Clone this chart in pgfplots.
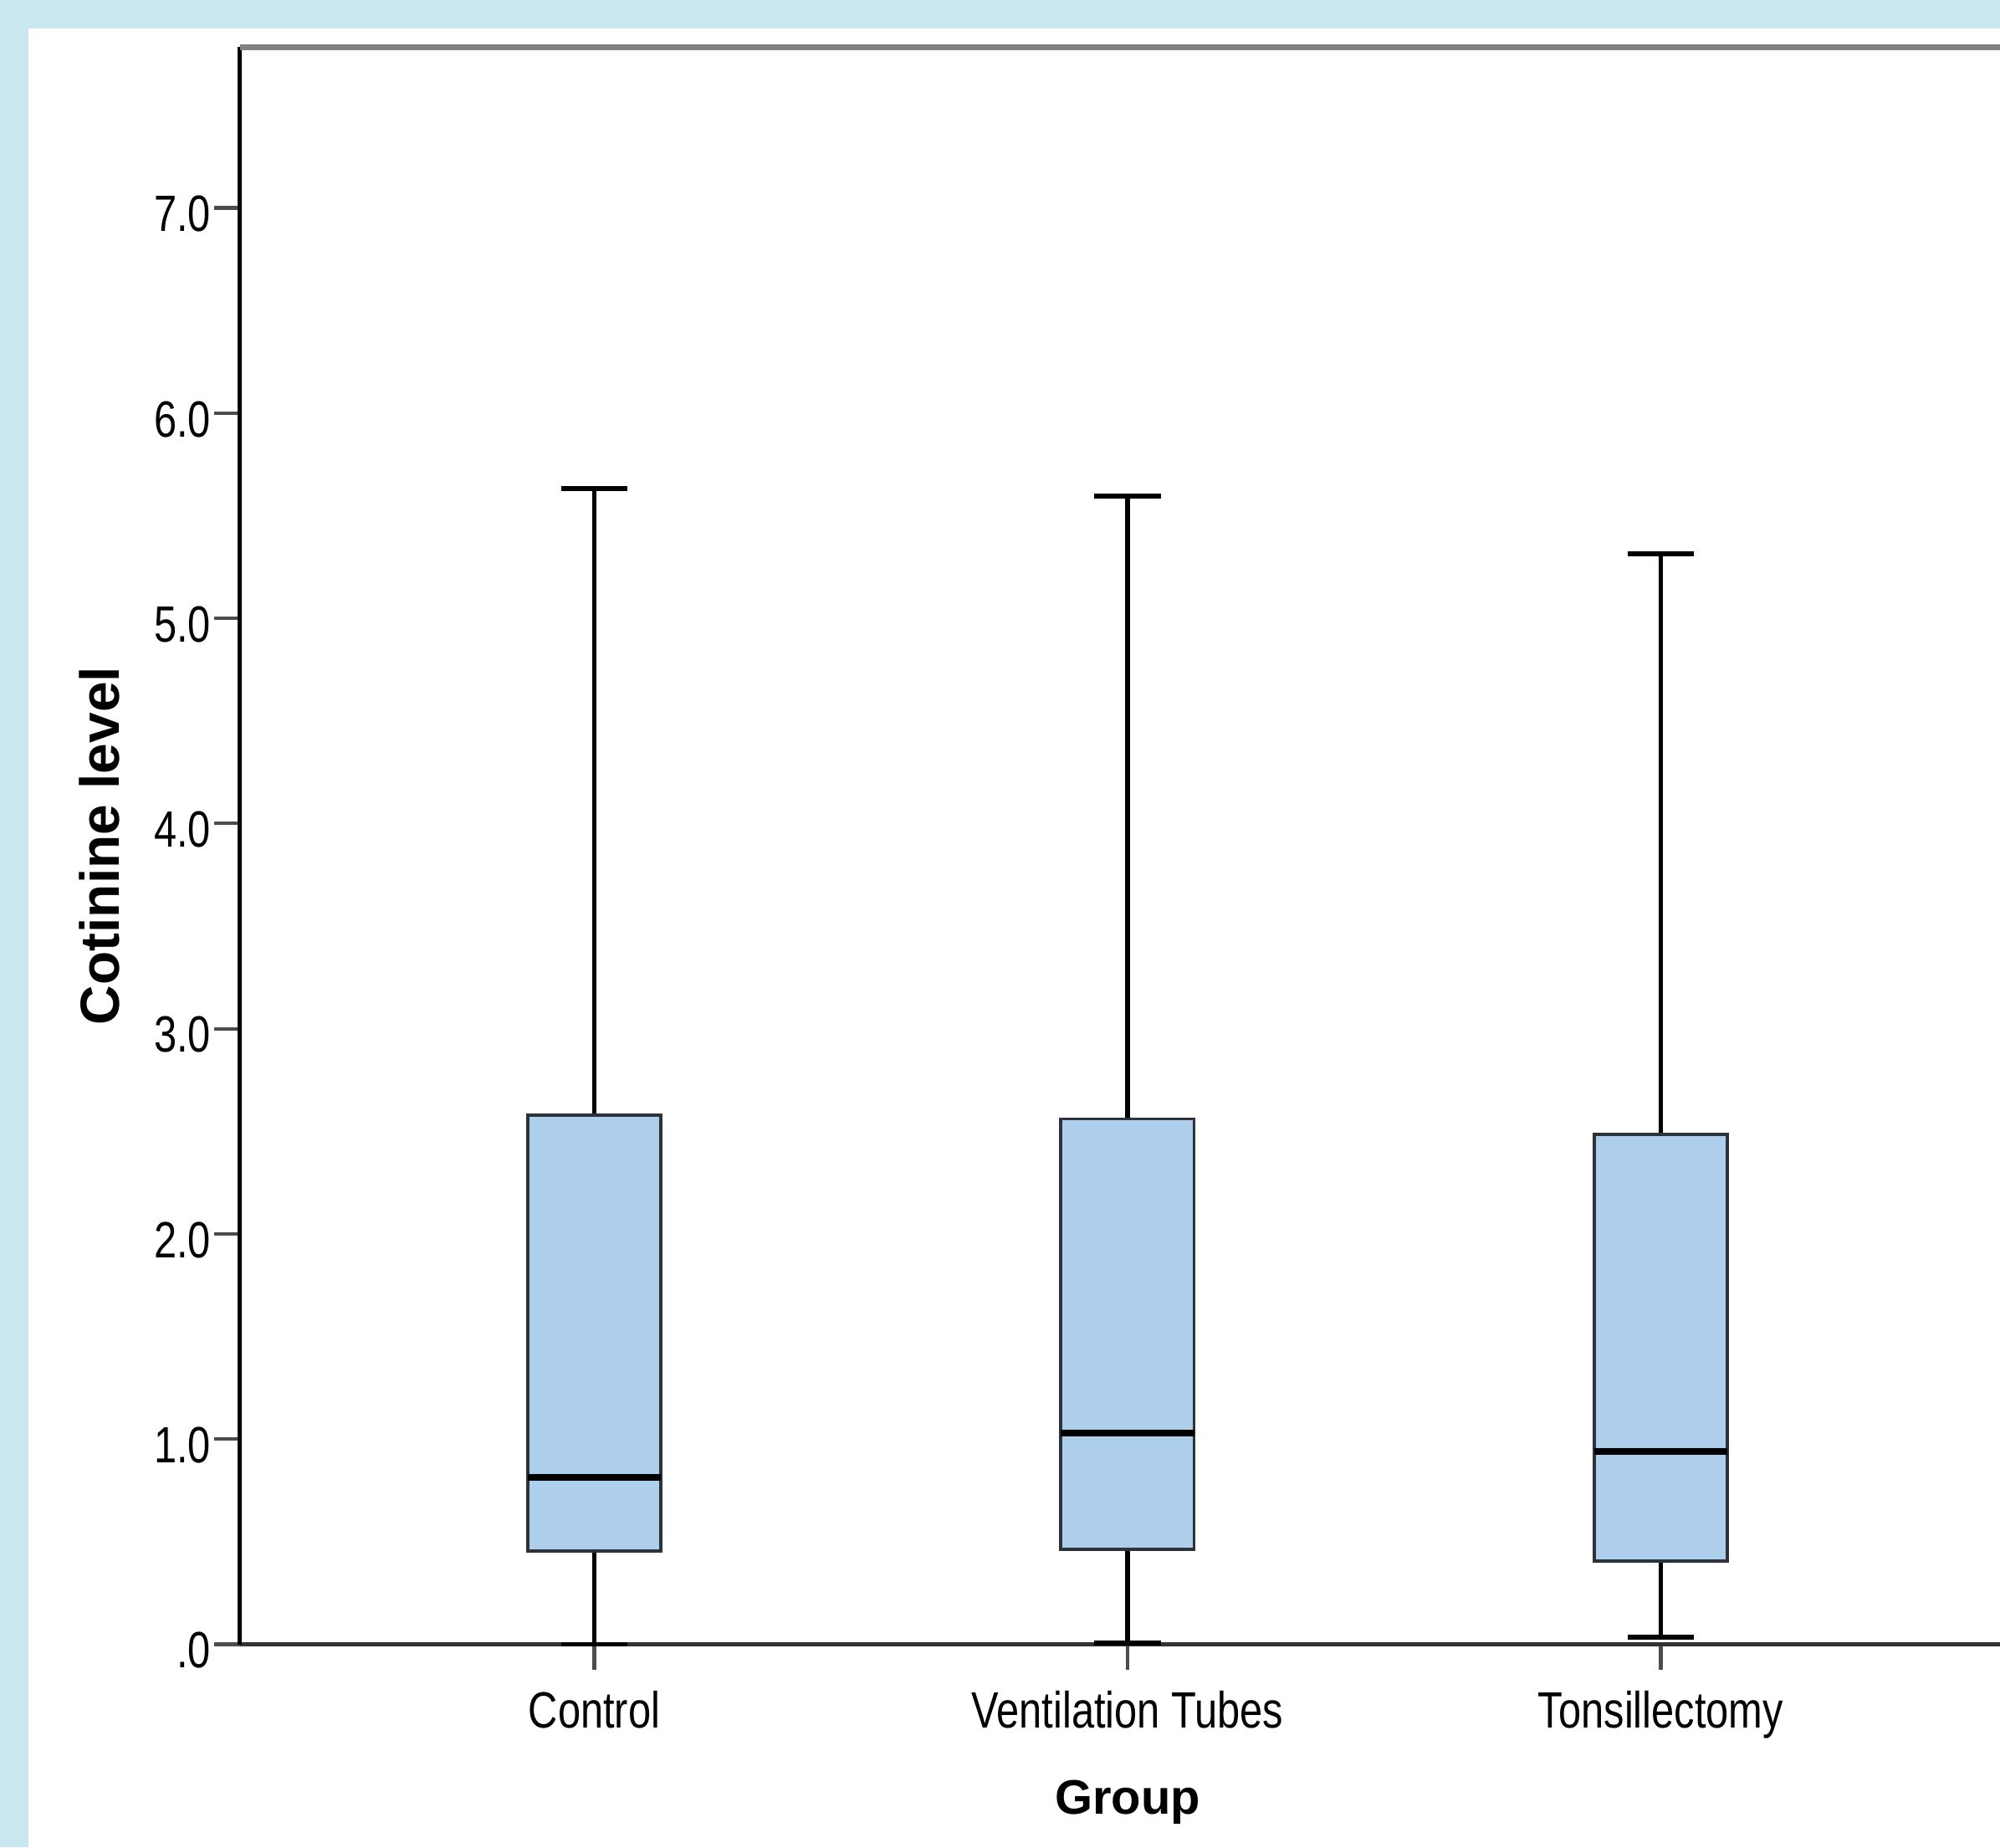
\documentclass[border=0pt]{standalone}
\usepackage{fontspec}
\setmainfont{Liberation Sans}
\newfontfamily\narrowfont{Liberation Sans}[FakeStretch=0.8]
\usepackage{pgfplots}
\pgfplotsset{compat=1.18}
\usepgfplotslibrary{statistics}
\definecolor{bgblue}{RGB}{200,231,240}
\definecolor{boxfill}{RGB}{174,207,236}
\definecolor{boxedge}{RGB}{45,50,56}
\begin{document}
\begin{tikzpicture}
\path[use as bounding box] (0,0) rectangle (392pt,362pt);
\clip (0,0) rectangle (392pt,362pt);
\fill[bgblue] (0,0) rectangle (392pt,362pt);
\fill[white] (5.5pt,0) rectangle (392pt,356.5pt);
\begin{axis}[
  at={(47pt,39.75pt)}, anchor=south west,
  scale only axis, width=348pt, height=313pt,
  xmin=-0.665, xmax=2.665, ymin=0, ymax=7.783,
  axis x line*=bottom, axis y line*=left,
  x axis line style={-, black!80, line width=0.8pt},
  y axis line style={-, black, line width=0.75pt},
  xtick={0,1,2}, xticklabels={Control,Ventilation Tubes,Tonsillectomy},
  ytick={0,1,2,3,4,5,6,7}, yticklabels={.0,1.0,2.0,3.0,4.0,5.0,6.0,7.0},
  tick align=outside, major tick length=5pt,
  tick style={black!70, line width=0.7pt},
  /pgf/number format/assume math mode=true,
  ticklabel style={font=\narrowfont\fontsize{10}{12}\selectfont, text=black},
  xticklabel style={inner sep=0pt, yshift=-4pt},
  yticklabel style={inner sep=0pt, xshift=-0.5pt, yshift=-1.2pt},
  xlabel={Group}, ylabel={Cotinine level},
  every axis x label/.style={at={(axis description cs:0.5,-0.1062)}, anchor=base, font=\bfseries\fontsize{9.5}{11}\selectfont},
  every axis y label/.style={at={(axis description cs:-0.079,0.5)}, anchor=center, rotate=90, font=\bfseries\fontsize{10.8}{13}\selectfont},
  clip=false,
  boxplot/draw direction=y,
  boxplot/box extend=0.25,
  boxplot/whisker extend=0.125,
  boxplot/every box/.style={draw=boxedge, fill=boxfill, line width=0.6pt},
  boxplot/every median/.style={black, line width=1.35pt},
  boxplot/every whisker/.style={black, line width=0.95pt},
]
\draw[black!50, line width=1.2pt] (rel axis cs:0,1) -- (rel axis cs:1,1);
\addplot[boxplot prepared={draw position=0, lower whisker=0.0, lower quartile=0.455, median=0.815, upper quartile=2.580, upper whisker=5.632}] coordinates {};
\addplot[boxplot prepared={draw position=1, lower whisker=0.005, lower quartile=0.463, median=1.030, upper quartile=2.561, upper whisker=5.595}] coordinates {};
\addplot[boxplot prepared={draw position=2, lower whisker=0.036, lower quartile=0.406, median=0.940, upper quartile=2.486, upper whisker=5.315}] coordinates {};
\end{axis}
\end{tikzpicture}
\end{document}
